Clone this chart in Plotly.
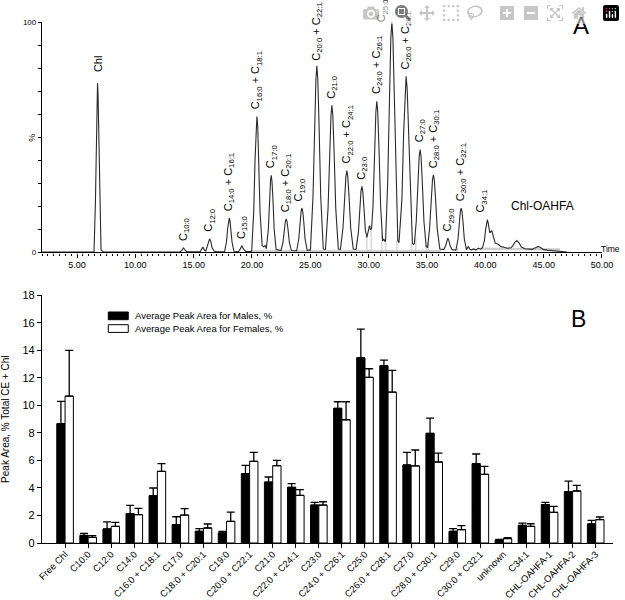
import plotly.graph_objects as go

FONT = "Arial, 'Liberation Sans', Helvetica, sans-serif"

# ---------------- Panel A data (chromatogram) ----------------
trace_time = [
    2.0, 6.46, 6.58, 6.655, 6.715, 6.76, 6.805, 6.865, 6.94, 7.06, 7.25, 13.83,
    14.0, 14.13, 14.26, 14.43, 15.55, 15.68, 15.79, 15.92, 16.04, 16.16, 16.26, 16.36, 16.46, 16.58, 16.75, 17.0,
    17.65, 17.81, 17.91, 17.99, 18.05, 18.11, 18.19, 18.29, 18.45, 18.85, 19.0, 19.13, 19.26, 19.45, 19.97,
    20.15, 20.26, 20.35, 20.42, 20.49, 20.58, 20.69, 20.87, 21.0, 21.13, 21.23,
    21.40, 21.50, 21.59, 21.65, 21.71, 21.80, 21.90, 22.07, 22.48,
    22.66, 22.77, 22.86, 22.93, 23.0, 23.09, 23.2, 23.38, 23.83,
    24.01, 24.12, 24.21, 24.28, 24.35, 24.44, 24.55, 24.73, 25.01,
    25.23, 25.37, 25.48, 25.56, 25.64, 25.75, 25.89, 26.11, 26.30,
    26.52, 26.66, 26.77, 26.85, 26.93, 27.04, 27.18, 27.40, 27.58,
    27.80, 27.94, 28.05, 28.13, 28.21, 28.32, 28.46, 28.68, 28.92,
    29.12, 29.245, 29.345, 29.42, 29.495, 29.595, 29.72, 29.85, 29.95, 30.07, 30.17,
    30.25, 30.37, 30.51, 30.62, 30.70, 30.78, 30.89, 31.03, 31.2, 31.3, 31.38,
    31.45, 31.63, 31.78, 31.90, 31.99, 32.08, 32.20, 32.35, 32.5, 32.6,
    32.85, 33.0, 33.12, 33.21, 33.30, 33.42, 33.57, 33.75, 33.85, 33.92,
    34.08, 34.22, 34.33, 34.41, 34.49, 34.60, 34.74, 34.93, 35.05,
    35.22, 35.36, 35.47, 35.55, 35.63, 35.74, 35.88, 36.1, 36.45,
    36.6, 36.7, 36.79, 36.88, 36.98, 37.15, 37.48,
    37.66, 37.77, 37.86, 37.93, 38.0, 38.09, 38.2, 38.38,
    38.45, 38.55, 38.65, 38.8, 39.0, 39.2, 39.4, 39.6, 39.75,
    39.92, 40.03, 40.11, 40.18, 40.26, 40.38, 40.55, 40.68, 40.85, 41.1, 41.35, 41.6, 41.9, 42.2,
    42.35, 42.5, 42.7, 42.9, 43.1, 43.4, 43.7, 44.0, 44.2,
    44.4, 44.55, 44.75, 45.0, 45.3, 45.6, 46.0, 46.5, 47.0,
]
trace_signal = [
    0.2, 0.2, 22.0, 50.0, 68.4, 73.5, 68.4, 50.0, 22.0, 1.0, 0.3, 0.2,
    1.0, 1.9, 1.0, 0.3, 0.3, 1.2, 2.3, 1.0, 0.6, 2.5, 5.0, 5.9, 5.0, 2.0, 0.6, 0.3,
    0.3, 4.5, 10.1, 13.9, 14.9, 13.9, 10.1, 4.5, 0.5, 0.4, 1.5, 2.9, 1.5, 0.4, 0.4,
    17.7, 40.1, 54.9, 59.0, 54.9, 40.1, 17.7, 3.0, 2.4, 3.0, 1.6,
    10.0, 22.7, 31.1, 33.4, 31.1, 22.7, 10.0, 1.2, 0.8,
    4.4, 9.9, 13.5, 14.5, 13.5, 9.9, 4.4, 0.8, 0.7,
    5.8, 13.1, 17.9, 19.2, 17.9, 13.1, 5.8, 1.0, 1.0,
    24.3, 55.1, 75.3, 81.0, 75.3, 55.1, 24.3, 1.5, 1.3,
    19.1, 43.4, 59.3, 63.8, 59.3, 43.4, 19.1, 1.5, 1.3,
    10.7, 24.1, 33.0, 35.5, 33.0, 24.1, 10.7, 1.5, 1.3,
    8.6, 19.5, 26.7, 28.7, 26.7, 19.5, 9.5, 6.5, 9.0, 11.6, 9.8,
    10.5, 19.7, 44.6, 61.0, 65.6, 61.0, 44.6, 19.7, 5.0, 5.8, 4.8,
    5.0, 30.0, 68.0, 93.0, 100.0, 93.0, 68.0, 30.0, 5.0, 4.2,
    22.9, 52.0, 71.1, 76.4, 71.1, 52.0, 22.9, 4.0, 3.4, 3.8,
    13.4, 30.3, 41.5, 44.6, 41.5, 30.3, 13.4, 2.5, 2.2,
    10.1, 22.9, 31.3, 33.7, 31.3, 22.9, 10.1, 1.5, 1.2,
    3.0, 5.0, 6.2, 5.0, 3.0, 1.2, 1.0,
    5.8, 13.1, 17.9, 19.2, 17.9, 13.1, 5.8, 1.2,
    1.8, 2.6, 1.5, 1.0, 1.5, 1.0, 1.8, 1.4, 2.0,
    5.0, 10.0, 13.3, 14.2, 12.5, 8.5, 9.5, 6.5, 4.0, 3.5, 2.5, 2.2, 1.8, 2.0,
    2.8, 4.2, 5.1, 4.0, 2.3, 1.6, 1.4, 1.3, 1.8,
    2.4, 2.6, 2.0, 1.2, 1.0, 0.8, 0.6, 0.4, 0.2,
]

# integration marks (light grey)
baseline_time = [20.0, 36.2, None, 39.6, 46.4]
baseline_level = [0.5, 0.5, None, 1.6, 1.2]
integration_times = [29.85, 30.21, 31.13, 31.47, 32.42, 33.64, 34.05, 34.93, 35.12, 37.61]
integration_heights = [7.0, 10.0, 8.0, 5.0, 5.0, 4.0, 6.0, 3.0, 4.0, 2.0]

# labelled peaks
peak_times = [6.76, 14.13, 16.36, 18.05, 19.13, 20.42, 21.65, 22.93, 24.28, 25.56, 26.85,
              28.13, 29.42, 30.70, 31.99, 33.21, 34.41, 35.55, 36.79, 37.93, 40.18]
peak_heights = [73.5, 1.9, 5.9, 14.9, 2.9, 59.0, 33.4, 14.5, 19.2, 81.0, 63.8,
                35.5, 28.7, 65.6, 100.0, 76.4, 44.6, 33.7, 6.2, 19.2, 14.2]
peak_labels = [
    "Chl",
    "C<sub>10:0</sub>",
    "C<sub>12:0</sub>",
    "C<sub>14:0</sub> + C<sub>16:1</sub>",
    "C<sub>15:0</sub>",
    "C<sub>16:0</sub> + C<sub>18:1</sub>",
    "C<sub>17:0</sub>",
    "C<sub>18:0</sub> + C<sub>20:1</sub>",
    "C<sub>19:0</sub>",
    "C<sub>20:0</sub> + C<sub>22:1</sub>",
    "C<sub>21:0</sub>",
    "C<sub>22:0</sub> + C<sub>24:1</sub>",
    "C<sub>23:0</sub>",
    "C<sub>24:0</sub> + C<sub>26:1</sub>",
    "C<sub>25:0</sub>",
    "C<sub>26:0</sub> + C<sub>28:1</sub>",
    "C<sub>27:0</sub>",
    "C<sub>28:0</sub> + C<sub>30:1</sub>",
    "C<sub>29:0</sub>",
    "C<sub>30:0</sub> + C<sub>32:1</sub>",
    "C<sub>34:1</sub>",
]

# ---------------- Panel B data (bar chart) ----------------
categories = ["Free Chl", "C10:0", "C12:0", "C14:0", "C16:0 + C18:1", "C17:0",
              "C18:0 + C20:1", "C19:0", "C20:0 + C22:1", "C21:0", "C22:0 + C24:1",
              "C23:0", "C24:0 + C26:1", "C25:0", "C26:0 + C28:1", "C27:0",
              "C28:0 + C30:1", "C29:0", "C30:0 + C32:1", "unknown", "C34:1",
              "CHL-OAHFA-1", "CHL-OAHFA-2", "CHL-OAHFA-3"]
male_mean = [8.67, 0.55, 1.02, 2.13, 3.44, 1.33, 0.85, 0.73, 5.04, 4.43, 4.05, 2.76,
             9.79, 13.47, 12.89, 5.67, 7.97, 0.85, 5.77, 0.22, 1.28, 2.79, 3.73, 1.38]
male_err = [1.63, 0.15, 0.51, 0.61, 0.56, 0.58, 0.19, 0.12, 0.60, 0.37, 0.26, 0.20,
            0.48, 2.08, 0.41, 0.92, 1.11, 0.19, 0.70, 0.05, 0.17, 0.17, 0.77, 0.27]
female_mean = [10.68, 0.41, 1.21, 2.06, 5.21, 2.03, 1.09, 1.57, 5.94, 5.62, 3.46, 2.76,
               8.96, 12.04, 10.97, 5.60, 5.89, 0.97, 4.99, 0.32, 1.21, 2.23, 3.78, 1.70]
female_err = [3.32, 0.12, 0.29, 0.46, 0.56, 0.47, 0.29, 0.68, 0.65, 0.38, 0.42, 0.24,
              1.31, 0.63, 1.58, 1.16, 0.65, 0.29, 0.58, 0.06, 0.19, 0.43, 0.41, 0.19]
series_names = ["Average Peak Area for Males, %", "Average Peak Area for Females, %"]

fig = go.Figure()

# Panel A traces
fig.add_trace(go.Scatter(x=baseline_time, y=baseline_level, mode="lines",
                         line=dict(color="#cfcfcf", width=2.5), xaxis="x", yaxis="y",
                         hoverinfo="skip", showlegend=False))
vx, vy = [], []
for t, h in zip(integration_times, integration_heights):
    vx += [t, t, None]
    vy += [0, h, None]
fig.add_trace(go.Scatter(x=vx, y=vy, mode="lines", line=dict(color="#c4c4c4", width=1),
                         xaxis="x", yaxis="y", hoverinfo="skip", showlegend=False))
fig.add_trace(go.Scatter(x=trace_time, y=trace_signal, mode="lines",
                         line=dict(color="#2a2a2a", width=1.1), xaxis="x", yaxis="y",
                         showlegend=False))

# Panel B traces
fig.add_trace(go.Bar(x=categories, y=male_mean, name=series_names[0],
                     marker=dict(color="black", line=dict(color="black", width=1)),
                     error_y=dict(type="data", array=male_err, arrayminus=[0] * len(male_err),
                                  symmetric=False, color="black", thickness=1.3, width=4),
                     xaxis="x2", yaxis="y2", showlegend=False))
fig.add_trace(go.Bar(x=categories, y=female_mean, name=series_names[1],
                     marker=dict(color="white", line=dict(color="black", width=1)),
                     error_y=dict(type="data", array=female_err, arrayminus=[0] * len(female_err),
                                  symmetric=False, color="black", thickness=1.3, width=4),
                     xaxis="x2", yaxis="y2", showlegend=False))

annotations = []
shifts = {0: (0, 9), 8: (-3, 5), 9: (0, 3), 14: (-9, -2), 20: (-6, 5)}
for i, (t, h, lab) in enumerate(zip(peak_times, peak_heights, peak_labels)):
    xs, ys = shifts.get(i, (0, 5))
    annotations.append(dict(x=t, y=h, xref="x", yref="y", text=lab, textangle=-90,
                            showarrow=False, xanchor="center", yanchor="bottom",
                            xshift=xs, yshift=ys,
                            font=dict(family=FONT, size=11, color="black")))
annotations.append(dict(x=44.91, y=20.0, xref="x", yref="y", text="Chl-OAHFA",
                        showarrow=False, xanchor="center", yanchor="middle",
                        font=dict(family=FONT, size=12, color="black")))
annotations.append(dict(x=0.9436, y=0.9933, xref="paper", yref="paper", text="A",
                        showarrow=False, xanchor="center", yanchor="middle",
                        font=dict(family=FONT, size=24, color="black")))
annotations.append(dict(x=0.940, y=0.430, xref="paper", yref="paper", text="B",
                        showarrow=False, xanchor="center", yanchor="middle",
                        font=dict(family=FONT, size=23, color="black")))
annotations.append(dict(x=1.0158, y=0.565, xref="paper", yref="paper", text="Time",
                        showarrow=False, xanchor="right", yanchor="middle",
                        font=dict(family=FONT, size=8.5, color="black")))
annotations.append(dict(x=-0.0175, y=0.778, xref="paper", yref="paper", text="%",
                        textangle=-90, showarrow=False, xanchor="center", yanchor="middle",
                        font=dict(family=FONT, size=9, color="black")))

# manual legend for panel B
shapes = [
    dict(type="rect", xref="paper", yref="paper", x0=0.1161, x1=0.1511, y0=0.4286, y1=0.4434,
         fillcolor="black", line=dict(color="black", width=1)),
    dict(type="rect", xref="paper", yref="paper", x0=0.1161, x1=0.1511, y0=0.4042, y1=0.4190,
         fillcolor="white", line=dict(color="black", width=1)),
]
annotations.append(dict(x=0.1594, y=0.4363, xref="paper", yref="paper", text=series_names[0],
                        xanchor="left", yanchor="middle", showarrow=False,
                        font=dict(family=FONT, size=9.5, color="black")))
annotations.append(dict(x=0.1594, y=0.4113, xref="paper", yref="paper", text=series_names[1],
                        xanchor="left", yanchor="middle", showarrow=False,
                        font=dict(family=FONT, size=9.5, color="black")))

fig.update_layout(
    width=625, height=600,
    margin=dict(l=42, r=12, t=22, b=57, autoexpand=False),
    paper_bgcolor="white", plot_bgcolor="white",
    font=dict(family=FONT, color="black"),
    barmode="group", bargap=0.28, bargroupgap=0,
    xaxis=dict(domain=[0, 0.9807], anchor="y", range=[2, 50], showgrid=False, zeroline=False,
               automargin=False,
               showline=True, linecolor="black", linewidth=1.3,
               tickmode="linear", tick0=0, dtick=5, tickformat=".2f",
               ticks="outside", ticklen=4, tickcolor="black",
               minor=dict(dtick=0.5, tick0=0, ticks="outside", ticklen=2.5, tickcolor="black"),
               tickfont=dict(family=FONT, size=9)),
    yaxis=dict(domain=[0.5578, 1], anchor="x", range=[0, 100], showgrid=False, zeroline=False,
               automargin=False,
               showline=True, linecolor="black", linewidth=1.3,
               tickmode="array", tickvals=[0, 100], ticktext=["0", "100"],
               ticks="outside", ticklen=3, tickcolor="black",
               minor=dict(dtick=10, tick0=0, ticks="outside", ticklen=3, tickcolor="black"),
               tickfont=dict(family=FONT, size=8)),
    xaxis2=dict(domain=[0, 1], anchor="y2", type="category", range=[-1, 23.75],
                automargin=False,
                showgrid=False, zeroline=False, showline=True, linecolor="black", linewidth=1.3,
                ticks="outside", ticklen=4, tickcolor="black", tickangle=-45,
                ticklabelstandoff=-3,
                tickfont=dict(family=FONT, size=9.4)),
    yaxis2=dict(domain=[0, 0.4752], anchor="x2", range=[0, 18], showgrid=False, zeroline=False,
                automargin=False,
                showline=True, linecolor="black", linewidth=1.3,
                tickmode="linear", tick0=0, dtick=2,
                ticks="outside", ticklen=4, tickcolor="black",
                tickfont=dict(family=FONT, size=11),
                title=dict(text="Peak Area, % Total CE + Chl",
                           font=dict(family=FONT, size=10), standoff=10)),
    annotations=annotations,
    shapes=shapes,
)

fig.write_html(
    "out.html",
    post_script="document.body.style.margin='0px';document.body.style.padding='0px';"
                "document.documentElement.style.overflow='hidden';",
)
